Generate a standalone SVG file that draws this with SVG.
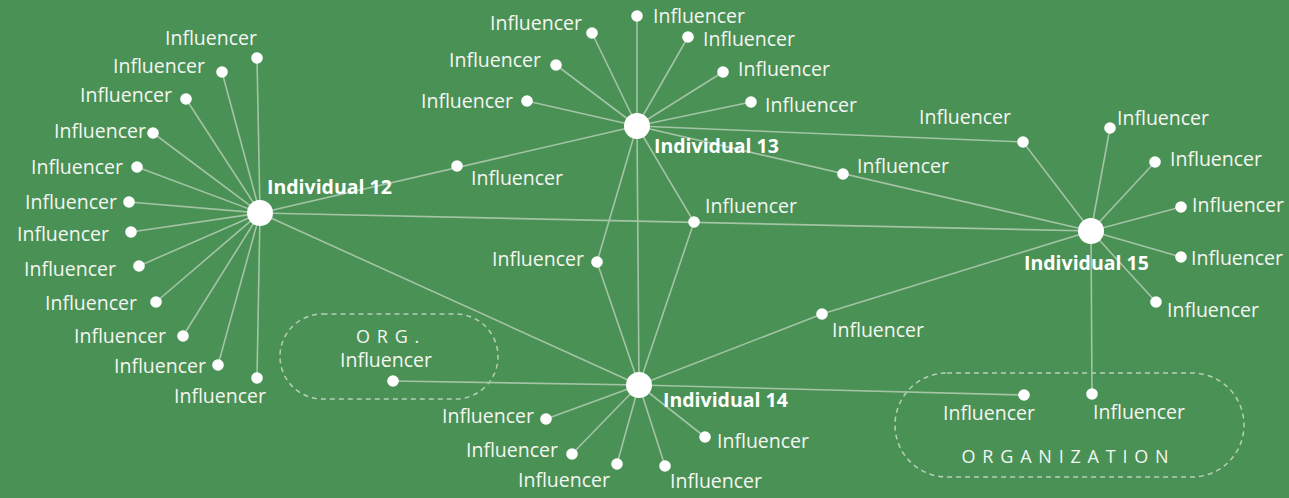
<svg xmlns="http://www.w3.org/2000/svg" width="1289" height="498" viewBox="0 0 1289 498">
<style>
.bg{fill:#4a9155}
.ln{stroke:#a3c4a5;stroke-width:1.6;fill:none}
.org{stroke:#b6d0b7;stroke-width:1.5;fill:none;stroke-dasharray:5 4}
.hub{fill:#ffffff}
.dot{fill:#ffffff}
text{font-family:"Open Sans",Lato,"Liberation Sans",sans-serif;fill:#f4f6f2}
.t{font-size:19.5px}
.h{font-size:19.5px;font-weight:bold;fill:#ffffff}
.e{text-anchor:end}
.m{text-anchor:middle}
.orgt{font-size:18px;letter-spacing:6.8px}
</style>
<rect class="bg" x="0" y="0" width="1289" height="498"/>

<g id="org-boxes">
<rect class="org" x="280" y="314" width="218" height="85" rx="42.5"/>
<rect class="org" x="895" y="373" width="349" height="104" rx="52"/>
<text class="orgt m" x="391" y="343">ORG.</text>
<text class="orgt m" x="1068.5" y="463">ORGANIZATION</text>
</g>

<g id="connectors">
<line class="ln" x1="260" y1="213" x2="257" y2="58"/>
<line class="ln" x1="260" y1="213" x2="222" y2="72"/>
<line class="ln" x1="260" y1="213" x2="186" y2="99"/>
<line class="ln" x1="260" y1="213" x2="153" y2="133"/>
<line class="ln" x1="260" y1="213" x2="137" y2="167"/>
<line class="ln" x1="260" y1="213" x2="129" y2="202"/>
<line class="ln" x1="260" y1="213" x2="131" y2="232"/>
<line class="ln" x1="260" y1="213" x2="139" y2="266"/>
<line class="ln" x1="260" y1="213" x2="156" y2="302"/>
<line class="ln" x1="260" y1="213" x2="183" y2="336"/>
<line class="ln" x1="260" y1="213" x2="218" y2="365"/>
<line class="ln" x1="260" y1="213" x2="257" y2="378"/>
<line class="ln" x1="260" y1="213" x2="637" y2="126"/>
<line class="ln" x1="260" y1="213" x2="1091" y2="231"/>
<line class="ln" x1="260" y1="213" x2="639" y2="385"/>
<line class="ln" x1="637" y1="126" x2="637" y2="16"/>
<line class="ln" x1="637" y1="126" x2="592" y2="33"/>
<line class="ln" x1="637" y1="126" x2="688" y2="37"/>
<line class="ln" x1="637" y1="126" x2="556" y2="65"/>
<line class="ln" x1="637" y1="126" x2="723" y2="72"/>
<line class="ln" x1="637" y1="126" x2="527" y2="101"/>
<line class="ln" x1="637" y1="126" x2="751" y2="102"/>
<line class="ln" x1="637" y1="126" x2="1091" y2="231"/>
<polyline class="ln" points="637,126 1023,142 1091,231"/>
<line class="ln" x1="637" y1="126" x2="639" y2="385"/>
<polyline class="ln" points="637,126 597,262 639,385"/>
<polyline class="ln" points="637,126 694,222 639,385"/>
<line class="ln" x1="639" y1="385" x2="546" y2="419"/>
<line class="ln" x1="639" y1="385" x2="572" y2="454"/>
<line class="ln" x1="639" y1="385" x2="617" y2="464"/>
<line class="ln" x1="639" y1="385" x2="665" y2="466"/>
<line class="ln" x1="639" y1="385" x2="705" y2="437"/>
<line class="ln" x1="639" y1="385" x2="393" y2="381"/>
<line class="ln" x1="639" y1="385" x2="1024" y2="395"/>
<polyline class="ln" points="639,385 822,314 1091,231"/>
<line class="ln" x1="1091" y1="231" x2="1110" y2="128"/>
<line class="ln" x1="1091" y1="231" x2="1155" y2="162"/>
<line class="ln" x1="1091" y1="231" x2="1181" y2="207"/>
<line class="ln" x1="1091" y1="231" x2="1181" y2="257"/>
<line class="ln" x1="1091" y1="231" x2="1156" y2="302"/>
<line class="ln" x1="1091" y1="231" x2="1092" y2="394"/>
</g>

<g id="individual-12"><circle class="hub" cx="260" cy="213" r="13"/><text class="h" x="267" y="194">Individual 12</text></g>
<g id="individual-13"><circle class="hub" cx="637" cy="126" r="13"/><text class="h" x="654" y="153">Individual 13</text></g>
<g id="individual-14"><circle class="hub" cx="639" cy="385" r="13"/><text class="h" x="663" y="407">Individual 14</text></g>
<g id="individual-15"><circle class="hub" cx="1091" cy="231" r="13"/><text class="h" x="1024" y="270">Individual 15</text></g>

<g id="inf-12-1"><circle class="dot" cx="257" cy="58" r="5.8"/><text class="t e" x="257" y="45">Influencer</text></g>
<g id="inf-12-2"><circle class="dot" cx="222" cy="72" r="5.8"/><text class="t e" x="205" y="73">Influencer</text></g>
<g id="inf-12-3"><circle class="dot" cx="186" cy="99" r="5.8"/><text class="t e" x="172" y="102">Influencer</text></g>
<g id="inf-12-4"><circle class="dot" cx="153" cy="133" r="5.8"/><text class="t e" x="146" y="138">Influencer</text></g>
<g id="inf-12-5"><circle class="dot" cx="137" cy="167" r="5.8"/><text class="t e" x="123" y="174">Influencer</text></g>
<g id="inf-12-6"><circle class="dot" cx="129" cy="202" r="5.8"/><text class="t e" x="117" y="209">Influencer</text></g>
<g id="inf-12-7"><circle class="dot" cx="131" cy="232" r="5.8"/><text class="t e" x="109" y="241">Influencer</text></g>
<g id="inf-12-8"><circle class="dot" cx="139" cy="266" r="5.8"/><text class="t e" x="116" y="276">Influencer</text></g>
<g id="inf-12-9"><circle class="dot" cx="156" cy="302" r="5.8"/><text class="t e" x="137" y="310">Influencer</text></g>
<g id="inf-12-10"><circle class="dot" cx="183" cy="336" r="5.8"/><text class="t e" x="166" y="343">Influencer</text></g>
<g id="inf-12-11"><circle class="dot" cx="218" cy="365" r="5.8"/><text class="t e" x="206" y="373">Influencer</text></g>
<g id="inf-12-12"><circle class="dot" cx="257" cy="378" r="5.8"/><text class="t e" x="266" y="403">Influencer</text></g>
<g id="inf-12-13"><circle class="dot" cx="457" cy="166" r="5.8"/><text class="t" x="471" y="185">Influencer</text></g>

<g id="inf-13-1"><circle class="dot" cx="637" cy="16" r="5.8"/><text class="t" x="653" y="23">Influencer</text></g>
<g id="inf-13-2"><circle class="dot" cx="592" cy="33" r="5.8"/><text class="t e" x="582" y="30">Influencer</text></g>
<g id="inf-13-3"><circle class="dot" cx="688" cy="37" r="5.8"/><text class="t" x="703" y="46">Influencer</text></g>
<g id="inf-13-4"><circle class="dot" cx="556" cy="65" r="5.8"/><text class="t e" x="541" y="67">Influencer</text></g>
<g id="inf-13-5"><circle class="dot" cx="723" cy="72" r="5.8"/><text class="t" x="738" y="76">Influencer</text></g>
<g id="inf-13-6"><circle class="dot" cx="527" cy="101" r="5.8"/><text class="t e" x="513" y="108">Influencer</text></g>
<g id="inf-13-7"><circle class="dot" cx="751" cy="102" r="5.8"/><text class="t" x="765" y="112">Influencer</text></g>
<g id="inf-13-8"><circle class="dot" cx="843" cy="174" r="5.8"/><text class="t" x="857" y="173">Influencer</text></g>
<g id="inf-13-9"><circle class="dot" cx="694" cy="222" r="5.8"/><text class="t" x="705" y="213">Influencer</text></g>
<g id="inf-13-10"><circle class="dot" cx="597" cy="262" r="5.8"/><text class="t e" x="584" y="266">Influencer</text></g>

<g id="inf-15-1"><circle class="dot" cx="1023" cy="142" r="5.8"/><text class="t e" x="1011" y="124">Influencer</text></g>
<g id="inf-15-2"><circle class="dot" cx="1110" cy="128" r="5.8"/><text class="t" x="1117" y="125">Influencer</text></g>
<g id="inf-15-3"><circle class="dot" cx="1155" cy="162" r="5.8"/><text class="t" x="1170" y="166">Influencer</text></g>
<g id="inf-15-4"><circle class="dot" cx="1181" cy="207" r="5.8"/><text class="t" x="1192" y="212">Influencer</text></g>
<g id="inf-15-5"><circle class="dot" cx="1181" cy="257" r="5.8"/><text class="t" x="1191" y="265">Influencer</text></g>
<g id="inf-15-6"><circle class="dot" cx="1156" cy="302" r="5.8"/><text class="t" x="1167" y="317">Influencer</text></g>
<g id="inf-15-7"><circle class="dot" cx="1092" cy="394" r="5.8"/><text class="t" x="1093" y="419">Influencer</text></g>

<g id="inf-14-1"><circle class="dot" cx="822" cy="314" r="5.8"/><text class="t" x="832" y="337">Influencer</text></g>
<g id="inf-14-2"><circle class="dot" cx="546" cy="419" r="5.8"/><text class="t e" x="534" y="423">Influencer</text></g>
<g id="inf-14-3"><circle class="dot" cx="572" cy="454" r="5.8"/><text class="t e" x="558" y="457">Influencer</text></g>
<g id="inf-14-4"><circle class="dot" cx="617" cy="464" r="5.8"/><text class="t e" x="610" y="487">Influencer</text></g>
<g id="inf-14-5"><circle class="dot" cx="665" cy="466" r="5.8"/><text class="t" x="670" y="488">Influencer</text></g>
<g id="inf-14-6"><circle class="dot" cx="705" cy="437" r="5.8"/><text class="t" x="717" y="448">Influencer</text></g>
<g id="inf-14-org"><circle class="dot" cx="393" cy="381" r="5.8"/><text class="t m" x="386" y="367">Influencer</text></g>
<g id="inf-14-7"><circle class="dot" cx="1024" cy="395" r="5.8"/><text class="t e" x="1035" y="420">Influencer</text></g>
</svg>
